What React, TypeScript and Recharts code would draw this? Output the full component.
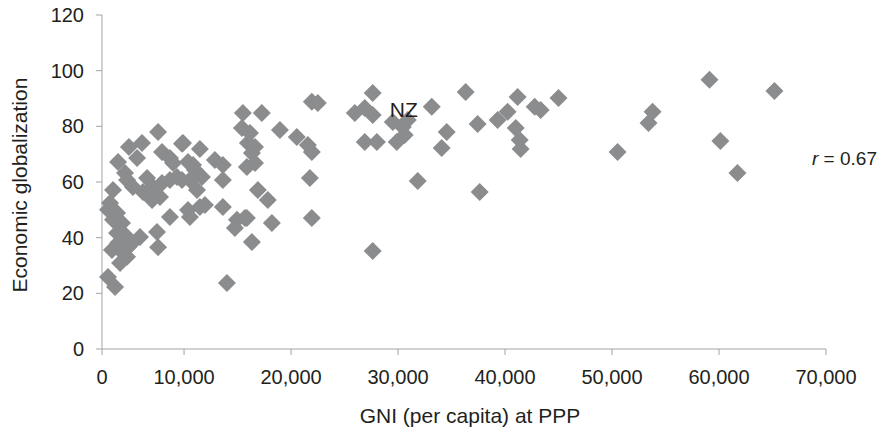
import React from "react";
import { ScatterChart, Scatter, XAxis, YAxis, LabelList } from "recharts";

// GNI per capita at PPP (US$) for each country
const gniValues = [
  7570, 4850, 6070, 3830, 5610, 9810, 11480, 7940, 8680, 8970,
  12880, 13630, 10370, 11020, 11670, 13630, 4480, 4670, 5220, 6540,
  7090, 7940, 8680, 9340, 6160, 7010, 7750, 10550, 11210, 3360,
  3080, 3740, 3360, 4200, 3740, 4480, 5880, 7470, 7570, 3830,
  5140, 4290, 4020, 2890, 3550, 8680, 10370, 11480, 10550, 13630,
  14940, 15690, 14010, 15500, 17270, 15410, 16160, 16630, 16340, 16630,
  16900, 17830, 18960, 9900, 10840, 11950, 9810, 14750, 16340, 18210,
  20540, 21570, 21940, 21760, 21940, 21940, 22500, 15970, 15870, 15870,
  2890, 4760, 3260, 4670,
  27630, 25960, 26890, 27630, 29510, 30440, 26890, 28020, 29880, 30620,
  33150, 31840, 27630,
  36320, 34550, 34080, 37440, 37630, 41180, 39310, 40240, 41000, 41370,
  41460, 42770, 43330, 45000, 50520, 53790, 53410, 59110, 65180, 60130,
  61720,
];

// Economic globalization index, same order as gniValues
const globalizationValues = [
  78.0, 72.6, 74.0, 67.2, 68.6, 73.7, 71.9, 70.8, 68.6, 66.8,
  67.9, 66.1, 67.2, 64.3, 61.8, 60.7, 63.2, 60.7, 58.2, 61.4,
  58.2, 59.6, 60.7, 61.8, 56.4, 53.5, 54.6, 60.7, 57.1, 57.1,
  52.5, 48.9, 46.4, 45.3, 41.7, 41.0, 40.2, 42.0, 36.6, 38.1,
  38.1, 34.5, 30.9, 25.9, 22.3, 47.4, 49.9, 51.0, 47.4, 51.0,
  46.4, 47.1, 23.7, 84.8, 84.8, 79.4, 77.6, 72.6, 70.4, 66.8,
  57.1, 53.5, 78.7, 74.0, 66.1, 51.7, 60.7, 43.5, 38.4, 45.3,
  76.2, 73.3, 70.8, 61.4, 47.1, 88.8, 88.4, 74.0, 65.4, 47.1,
  50.0, 36.6, 35.6, 33.1,
  92.0, 84.8, 86.6, 84.1, 81.6, 79.8, 74.4, 74.4, 74.4, 76.9,
  87.0, 60.4, 35.2,
  92.3, 78.0, 72.2, 80.8, 56.4, 90.5, 82.3, 85.2, 79.4, 75.1,
  71.9, 87.0, 85.9, 90.2, 70.8, 85.2, 81.2, 96.7, 92.7, 74.7,
  63.2,
];

// New Zealand, labelled
const nzGni = [30910];
const nzGlobalization = [82.3];
const nzNames = ["NZ"];

// the vertical axis sits a little right of zero; its tick is still printed as "0"
const xAxisStart = 2330;
const xTicks = [xAxisStart, 10000, 20000, 30000, 40000, 50000, 60000, 70000];
const yTicks = [0, 20, 40, 60, 80, 100, 120];

const countries = gniValues.map((gni, i) => ({ gni, glob: globalizationValues[i] }));
const nz = nzGni.map((gni, i) => ({ gni, glob: nzGlobalization[i], name: nzNames[i] }));

const FONT = '"Liberation Sans", Arial, Helvetica, sans-serif';
const TEXT = "#231f20";
const AXIS = "#a3a3a3";
const MARKER = "#8b8c8e";

const Diamond = (props: any) => {
  const { cx, cy } = props;
  const r = 9;
  return (
    <polygon
      points={`${cx},${cy - r} ${cx + r},${cy} ${cx},${cy + r} ${cx - r},${cy}`}
      fill={MARKER}
    />
  );
};

export default function App() {
  return (
    <div style={{ position: "absolute", left: 0, top: 0, width: 887, height: 429, background: "#fff" }}>
      <ScatterChart width={887} height={429} margin={{ top: 15, right: 61, left: 0, bottom: 0 }}>
        <XAxis
          type="number"
          dataKey="gni"
          domain={[xAxisStart, 70000]}
          ticks={xTicks}
          interval={0}
          height={80}
          stroke={AXIS}
          tickSize={6}
          tickMargin={15}
          tick={{ fill: TEXT, fontSize: 20, fontFamily: FONT }}
          tickFormatter={(v) => (v === xAxisStart ? "0" : v.toLocaleString("en-US"))}
          label={{
            content: () => (
              <text x={470} y={415} textAnchor="middle" dominantBaseline="central"
                fill={TEXT} fontSize={21} fontFamily={FONT}>
                GNI (per capita) at PPP
              </text>
            ),
          }}
        />
        <YAxis
          type="number"
          dataKey="glob"
          domain={[0, 120]}
          ticks={yTicks}
          interval={0}
          width={102}
          stroke={AXIS}
          tickSize={6}
          tickMargin={12}
          tick={{ fill: TEXT, fontSize: 20, fontFamily: FONT }}
          label={{
            content: () => (
              <text x={19} y={185} transform="rotate(-90 19 185)" textAnchor="middle"
                dominantBaseline="central" fill={TEXT} fontSize={21} fontFamily={FONT}>
                Economic globalization
              </text>
            ),
          }}
        />
        <Scatter data={countries} shape={Diamond} isAnimationActive={false} />
        <Scatter data={nz} shape={Diamond} isAnimationActive={false}>
          <LabelList
            dataKey="name"
            content={(p: any) => (
              <text x={p.x + p.width / 2 - 4} y={p.y - 6} textAnchor="middle"
                dominantBaseline="central" fill={TEXT} fontSize={21} fontFamily={FONT}>
                {p.value}
              </text>
            )}
          />
        </Scatter>
      </ScatterChart>
      <div style={{ position: "absolute", left: 812, top: 148, fontFamily: FONT, fontSize: 19, lineHeight: "22px", color: TEXT, whiteSpace: "nowrap" }}>
        <i>r</i> = 0.67
      </div>
    </div>
  );
}
